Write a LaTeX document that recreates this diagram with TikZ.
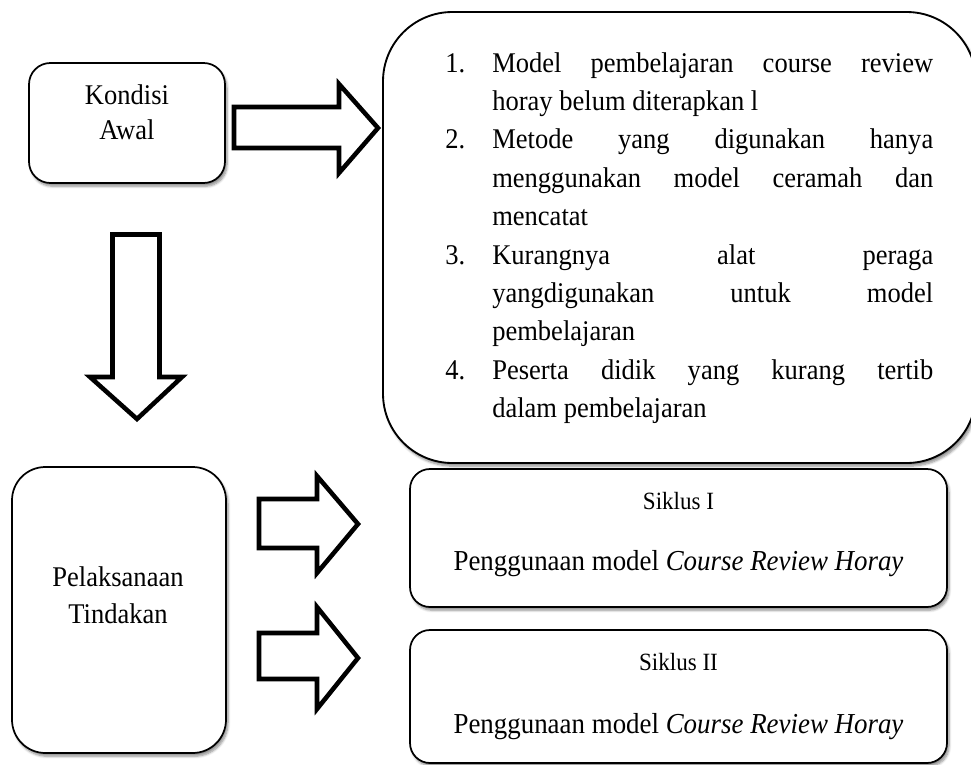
\documentclass[tikz,border=0pt]{standalone}
\usepackage{fontspec}
\setmainfont{Liberation Serif}[FakeStretch=0.93]
\usetikzlibrary{shadows.blur}
\tikzset{
  box/.style={draw, line width=1.3pt, fill=white, inner sep=0pt,
    blur shadow={shadow xshift=1.5pt, shadow yshift=-2.4pt, shadow blur steps=6, shadow opacity=45}},
  blockarrow/.style={draw, line width=3.4pt, line join=miter, miter limit=10, fill=white},
  txt/.style={font=\fontsize{21.4pt}{26pt}\selectfont, inner sep=0pt, anchor=base},
  item/.style={font=\fontsize{21.4pt}{26pt}\selectfont, inner sep=0pt, anchor=base west},
  small/.style={font=\fontsize{18.6pt}{22pt}\selectfont, inner sep=0pt, anchor=base},
  big/.style={font=\fontsize{21.7pt}{26pt}\selectfont, inner sep=0pt, anchor=base}
}
\newcommand{\jline}[1]{\makebox[330.75pt][s]{#1}}
\begin{document}
\begin{tikzpicture}[x=0.75pt,y=-0.75pt]
\useasboundingbox (0,0) rectangle (971,764);

% boxes
\node[box, rounded corners=16pt, minimum width=147pt, minimum height=90pt] (kondisi) at (127,123) {};
\node[box, rounded corners=52pt, line width=1.4pt, minimum width=444.75pt, minimum height=338.25pt] (masalah) at (679.5,237.5) {};
\node[box, rounded corners=25pt, minimum width=160.5pt, minimum height=214.5pt] (pelaksanaan) at (119,610) {};
\node[box, rounded corners=15pt, minimum width=402.75pt, minimum height=103.5pt] (siklus1) at (678.5,538) {};
\node[box, rounded corners=15pt, minimum width=402.75pt, minimum height=99.75pt] (siklus2) at (678.5,696.5) {};

% block arrows
\draw[blockarrow] (234,107) -- (339,107) -- (339,84) -- (378,128) -- (339,173) -- (339,148) -- (234,148) -- cycle;
\draw[blockarrow] (112.5,234.5) -- (159.5,234.5) -- (159.5,377) -- (182,377) -- (137,419) -- (90,377) -- (112.5,377) -- cycle;
\draw[blockarrow] (259,499) -- (317,499) -- (317,476) -- (358,524) -- (317,573) -- (317,548) -- (259,548) -- cycle;
\draw[blockarrow] (259,633) -- (317,633) -- (317,607) -- (358,658) -- (317,709) -- (317,679) -- (259,679) -- cycle;

% texts
\node[txt] (t1) at (127,104) {Kondisi};
\node[txt] (t2) at (127,139) {Awal};
\node[txt] (t3) at (118,586) {Pelaksanaan};
\node[txt] (t4) at (118,623) {Tindakan};

\node[small] (s1) at (678.5,509) {Siklus I};
\node[big] (p1) at (678.5,570) {Penggunaan model \textit{Course Review Horay}};
\node[small] (s2) at (678.5,670) {Siklus II};
\node[big] (p2) at (678.5,733) {Penggunaan model \textit{Course Review Horay}};

% list
\node[item] (n1) at (445,72) {1.};
\node[item] (l1) at (492,72) {\jline{Model pembelajaran course review}};
\node[item] (l2) at (492,110.4) {horay belum diterapkan l};
\node[item] (n2) at (445,148.8) {2.};
\node[item] (l3) at (492,148.8) {\jline{Metode yang digunakan hanya}};
\node[item] (l4) at (492,187.2) {\jline{menggunakan model ceramah dan}};
\node[item] (l5) at (492,225.6) {mencatat};
\node[item] (n3) at (445,264) {3.};
\node[item] (l6) at (492,264) {\jline{Kurangnya alat peraga}};
\node[item] (l7) at (492,302.4) {\jline{yangdigunakan untuk model}};
\node[item] (l8) at (492,340.8) {pembelajaran};
\node[item] (n4) at (445,379.2) {4.};
\node[item] (l9) at (492,379.2) {\jline{Peserta didik yang kurang tertib}};
\node[item] (l10) at (492,417.6) {dalam pembelajaran};
\end{tikzpicture}
\end{document}
